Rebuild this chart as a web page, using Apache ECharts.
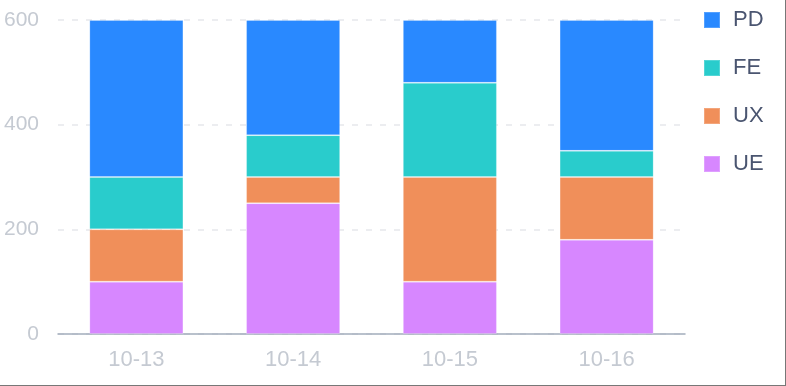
<!DOCTYPE html>
<html>
<head>
<meta charset="utf-8">
<script src="https://cdn.jsdelivr.net/npm/echarts@6/dist/echarts.min.js"></script>
<style>
html,body{margin:0;padding:0;background:#fff;}
#main{width:785px;height:385px;border-right:1px solid #777;border-bottom:1px solid #777;}
</style>
</head>
<body>
<div id="main"></div>
<script>
const categories = ['10-13', '10-14', '10-15', '10-16'];
const seriesNames = ['PD', 'FE', 'UX', 'UE'];
const ueValues = [100, 250, 100, 180];
const uxValues = [100, 50, 200, 120];
const feValues = [100, 80, 180, 50];
const pdValues = [300, 220, 120, 250];
const yTicks = [0, 200, 400, 600];

const colors = { PD: '#2989FF', FE: '#29CCCC', UX: '#F08F5A', UE: '#D787FF' };
const FONT = 'Liberation Sans, Arial, Helvetica, sans-serif';

const chart = echarts.init(document.getElementById('main'), null, { renderer: 'canvas' });

function mk(name, data) {
  return {
    name: name,
    type: 'bar',
    stack: 'total',
    barWidth: '60%',
    data: data,
    itemStyle: { color: colors[name], borderColor: 'rgba(255,255,255,0.2)', borderWidth: 1 }
  };
}

chart.setOption({
  animation: false,
  grid: { left: 58, right: 100, top: 20, bottom: 51, containLabel: false },
  legend: {
    orient: 'vertical',
    left: 698,
    top: 4,
    itemWidth: 16,
    itemHeight: 16,
    itemGap: 26,
    icon: 'rect',
    data: seriesNames,
    textStyle: { fontSize: 22, color: '#4A5570', fontFamily: FONT, padding: [0, 0, 0, 8] }
  },
  xAxis: {
    type: 'category',
    data: categories,
    axisLine: { lineStyle: { color: '#A3ADBC', width: 1.5 } },
    axisTick: { alignWithLabel: true, length: 5, lineStyle: { color: '#B8BEC8' } },
    axisLabel: { color: '#C5CAD2', fontSize: 22, margin: 15, fontFamily: FONT }
  },
  yAxis: {
    type: 'value',
    min: yTicks[0],
    max: yTicks[yTicks.length - 1],
    interval: 200,
    axisLine: { show: false },
    axisTick: { show: false },
    axisLabel: { color: '#C5CAD2', fontSize: 21, margin: 19, fontFamily: FONT },
    splitLine: { lineStyle: { color: '#E6E8EB', type: [6, 8], width: 1.5 } }
  },
  series: [
    mk('UE', ueValues),
    mk('UX', uxValues),
    mk('FE', feValues),
    mk('PD', pdValues)
  ]
});
</script>
</body>
</html>
